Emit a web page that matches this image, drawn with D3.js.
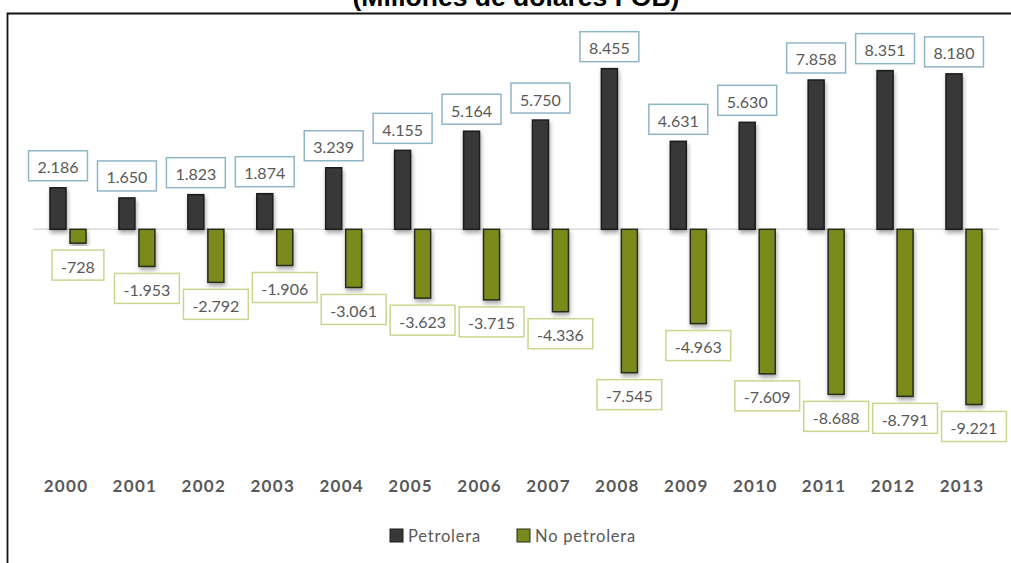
<!DOCTYPE html>
<html>
<head>
<meta charset="utf-8">
<script src="https://cdn.jsdelivr.net/npm/d3@7"></script>
<style>
  html, body { margin: 0; padding: 0; background: #fff; }
  svg { display: block; }
</style>
</head>
<body>
<svg id="chart" width="1011" height="563"></svg>
<script>
// Balanza comercial: petrolera vs. no petrolera (millones de dólares FOB)
const years = ['2000','2001','2002','2003','2004','2005','2006','2007','2008','2009','2010','2011','2012','2013'];
const petrolera = [2186, 1650, 1823, 1874, 3239, 4155, 5164, 5750, 8455, 4631, 5630, 7858, 8351, 8180];
const noPetrolera = [-728, -1953, -2792, -1906, -3061, -3623, -3715, -4336, -7545, -4963, -7609, -8688, -8791, -9221];
const seriesNames = ['Petrolera', 'No petrolera'];
const titleText = '(Millones de dólares FOB)';

const W = 1011, H = 563;
const svg = d3.select('#chart');

const colors = { 'Petrolera': '#383838', 'No petrolera': '#7a8b1d' };
const strokeCol = { 'Petrolera': '#1c1c1c', 'No petrolera': '#2a2a1a' };
const boxCol = { 'Petrolera': '#8fb6c6', 'No petrolera': '#cdd48e' };
const textGray = '#595959';
const labelFont = 'Lato, "Open Sans", sans-serif';

// Spanish number format: "." as thousands separator, plain hyphen for negatives
const locale = d3.formatLocale({ decimal: ',', thousands: '.', grouping: [3], currency: ['$', ''], minus: '-' });
const fmt = locale.format(',d');

// Drop shadow under the bars
const defs = svg.append('defs');
const f = defs.append('filter').attr('id', 'barShadow')
  .attr('x', '-50%').attr('y', '-20%').attr('width', '200%').attr('height', '140%');
f.append('feDropShadow').attr('dx', 1).attr('dy', 3).attr('stdDeviation', 2)
  .attr('flood-color', '#000').attr('flood-opacity', 0.35);

// Title (partly above the visible area)
svg.append('text')
  .attr('x', 516).attr('y', 5.5)
  .attr('text-anchor', 'middle')
  .attr('font-family', '"Liberation Sans", Arial, sans-serif')
  .attr('font-weight', 'bold')
  .attr('font-size', 26.5)
  .attr('fill', '#000')
  .text(titleText);

// Frame
svg.append('path')
  .attr('d', `M7.5,${H} V13.5 H${W}`)
  .attr('fill', 'none').attr('stroke', '#111').attr('stroke-width', 1.8);

// Scales
const x0 = d3.scaleBand().domain(years).range([33.55, 998.45]).padding(0);
const x1 = d3.scaleBand().domain(seriesNames)
  .range([x0.bandwidth() / 2 - 18, x0.bandwidth() / 2 + 18])
  .paddingInner(0.2).paddingOuter(0);
const y = d3.scaleLinear().domain([-10000, 10000]).range([229.3 + 190, 229.3 - 190]);

// Zero line
svg.append('line')
  .attr('x1', x0.range()[0]).attr('x2', x0.range()[1])
  .attr('y1', y(0)).attr('y2', y(0))
  .attr('stroke', '#d9d9d9').attr('stroke-width', 1.5);

const rows = years.map((yr, i) => ({
  year: yr,
  vals: [
    { key: 'Petrolera', value: petrolera[i] },
    { key: 'No petrolera', value: noPetrolera[i] }
  ]
}));

const groups = svg.append('g').selectAll('g.year')
  .data(rows).join('g')
  .attr('class', 'year')
  .attr('transform', d => `translate(${x0(d.year)},0)`);

// Bars
groups.selectAll('rect')
  .data(d => d.vals).join('rect')
  .attr('x', d => x1(d.key))
  .attr('width', x1.bandwidth())
  .attr('y', d => Math.min(y(d.value), y(0)))
  .attr('height', d => Math.abs(y(d.value) - y(0)))
  .attr('fill', d => colors[d.key])
  .attr('stroke', d => strokeCol[d.key])
  .attr('stroke-width', 1.5)
  .attr('filter', 'url(#barShadow)');

// Value labels in bordered boxes
const boxH = 30, padX = 9, gap = 7;
const labels = groups.selectAll('g.lbl')
  .data(d => d.vals).join('g').attr('class', 'lbl');

labels.each(function(d) {
  const g = d3.select(this);
  const cx = x1(d.key) + x1.bandwidth() / 2;
  const t = g.append('text')
    .attr('font-family', labelFont)
    .attr('font-size', 16)
    .attr('fill', textGray)
    .attr('text-anchor', 'middle')
    .attr('dominant-baseline', 'central')
    .text(fmt(d.value));
  const tw = t.node().getComputedTextLength();
  const bw = tw + padX * 2;
  const top = d.value >= 0 ? y(d.value) - gap - boxH : y(d.value) + gap;
  g.insert('rect', 'text')
    .attr('x', cx - bw / 2).attr('y', top)
    .attr('width', bw).attr('height', boxH)
    .attr('fill', '#fff')
    .attr('stroke', boxCol[d.key])
    .attr('stroke-width', 1.5);
  t.attr('x', cx).attr('y', top + boxH / 2 + 1);
});

// Category axis (years)
const xAxis = d3.axisBottom(x0).tickSize(0).tickPadding(0);
const ax = svg.append('g')
  .attr('transform', 'translate(-2,486)')
  .call(xAxis);
ax.select('.domain').remove();
ax.selectAll('text')
  .attr('font-family', labelFont)
  .attr('font-weight', 'bold')
  .attr('font-size', 17)
  .attr('letter-spacing', 1.3)
  .attr('fill', textGray)
  .attr('dy', '0.35em')
  .attr('y', 0);

// Legend
const legendItems = [
  { key: 'Petrolera', x: 390 },
  { key: 'No petrolera', x: 517 }
];
const lg = svg.append('g').attr('transform', 'translate(0,529)');
legendItems.forEach(it => {
  lg.append('rect')
    .attr('x', it.x).attr('y', 0).attr('width', 13).attr('height', 13)
    .attr('fill', colors[it.key]).attr('stroke', strokeCol[it.key]).attr('stroke-width', 1);
  lg.append('text')
    .attr('x', it.x + 18).attr('y', 12.5)
    .attr('font-family', labelFont)
    .attr('font-size', 16.5)
    .attr('letter-spacing', 0.8)
    .attr('fill', textGray)
    .text(it.key);
});
</script>
</body>
</html>
